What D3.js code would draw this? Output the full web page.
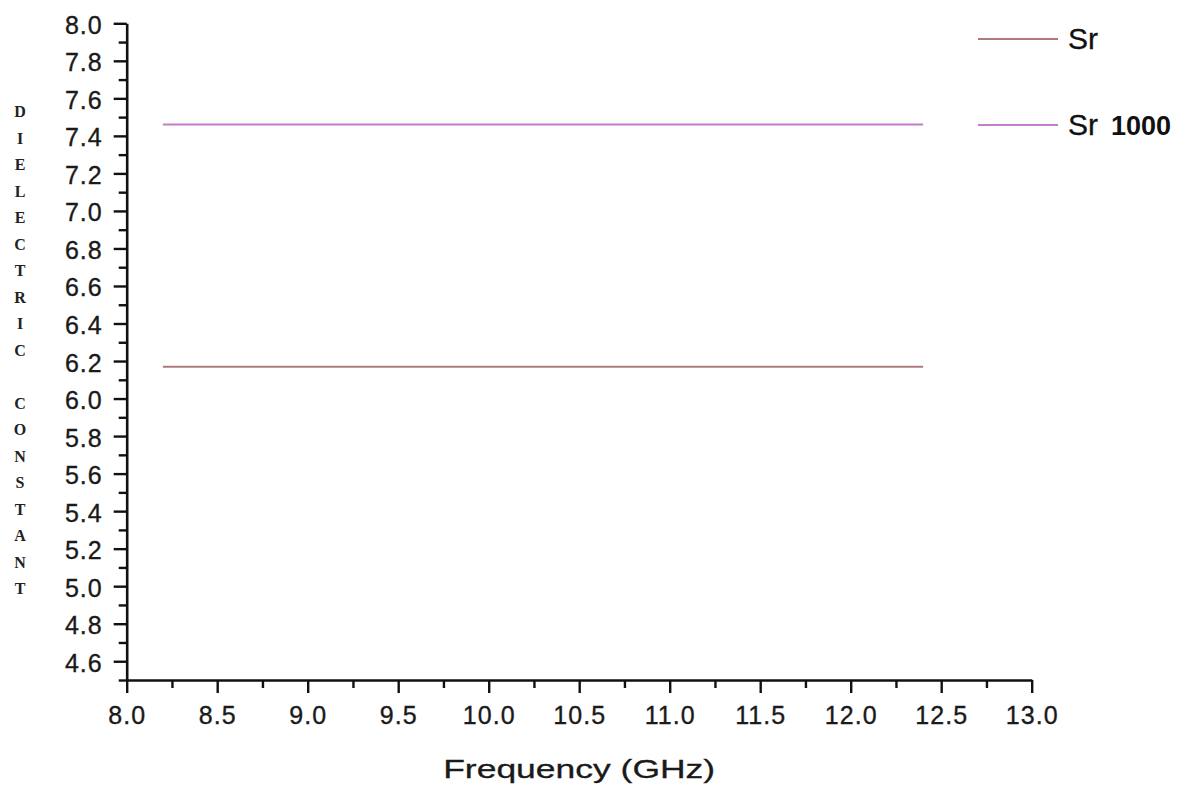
<!DOCTYPE html>
<html>
<head>
<meta charset="utf-8">
<script src="https://cdn.jsdelivr.net/npm/d3@7/dist/d3.min.js"></script>
<style>
  html, body { margin: 0; padding: 0; background: #fff; }
  svg { display: block; }
  .tick-label { font-family: "Liberation Sans", Arial, sans-serif; font-size: 25px; fill: #1a1a1a; stroke: #1a1a1a; stroke-width: 0.35px; letter-spacing: 1px; }
</style>
</head>
<body>
<svg id="chart" width="1187" height="789"></svg>
<script>
// Measured dielectric constant across the X band
const frequency = [8.2, 12.4];          // GHz
const srValues = [6.17, 6.17];
const sr1000Values = [7.46, 7.46];

const seriesNames = ["Sr", "Sr 1000"];
const seriesColors = ["#ad7b7f", "#c47ccc"];

const xTicks = [8.0, 8.5, 9.0, 9.5, 10.0, 10.5, 11.0, 11.5, 12.0, 12.5, 13.0];
const xMinorTicks = [8.25, 8.75, 9.25, 9.75, 10.25, 10.75, 11.25, 11.75, 12.25, 12.75];
const yTicks = [4.6, 4.8, 5.0, 5.2, 5.4, 5.6, 5.8, 6.0, 6.2, 6.4, 6.6, 6.8, 7.0, 7.2, 7.4, 7.6, 7.8, 8.0];
const yMinorTicks = [4.5, 4.7, 4.9, 5.1, 5.3, 5.5, 5.7, 5.9, 6.1, 6.3, 6.5, 6.7, 6.9, 7.1, 7.3, 7.5, 7.7, 7.9];

const xTitle = "Frequency (GHz)";
const yTitle = "DIELECTRIC CONSTANT";

const svg = d3.select("#chart");

const x = d3.scaleLinear().domain([8.0, 13.0]).range([126.7, 1031.7]);
const y = d3.scaleLinear().domain([4.5, 8.0]).range([680, 23.3]);

// Minor ticks first, then major axes over them
svg.append("g")
  .attr("transform", `translate(0,${y(4.5)})`)
  .call(d3.axisBottom(x).tickValues(xMinorTicks).tickSize(8).tickFormat(""))
  .call(g => g.select(".domain").remove())
  .call(g => g.selectAll("line").attr("stroke", "#111").attr("stroke-width", 2.4));

svg.append("g")
  .attr("transform", `translate(${x(8.0)},0)`)
  .call(d3.axisLeft(y).tickValues(yMinorTicks).tickSize(8).tickFormat(""))
  .call(g => g.select(".domain").remove())
  .call(g => g.selectAll("line").attr("stroke", "#111").attr("stroke-width", 2.4));

const xAxis = svg.append("g")
  .attr("transform", `translate(0,${y(4.5)})`)
  .call(d3.axisBottom(x).tickValues(xTicks).tickSize(13).tickSizeOuter(0).tickFormat(d3.format(".1f")));
xAxis.select(".domain").attr("stroke", "#111").attr("stroke-width", 2.6);
xAxis.selectAll(".tick line").attr("stroke", "#111").attr("stroke-width", 2.4);
xAxis.selectAll(".tick text")
  .attr("class", "tick-label")
  .attr("y", 44).attr("dy", null)
  .attr("font-family", null).attr("font-size", null);

const yAxis = svg.append("g")
  .attr("transform", `translate(${x(8.0)},0)`)
  .call(d3.axisLeft(y).tickValues(yTicks).tickSize(13).tickSizeOuter(0).tickFormat(d3.format(".1f")));
yAxis.select(".domain").attr("stroke", "#111").attr("stroke-width", 2.6);
yAxis.selectAll(".tick line").attr("stroke", "#111").attr("stroke-width", 2.4);
yAxis.selectAll(".tick text")
  .attr("class", "tick-label")
  .attr("x", -24).attr("dy", "0.40em")
  .attr("font-family", null).attr("font-size", null);

// Data lines
const line = d3.line().x(d => x(d[0])).y(d => y(d[1]));
const series = [srValues, sr1000Values];
series.forEach((vals, i) => {
  svg.append("path")
    .datum(frequency.map((f, j) => [f, vals[j]]))
    .attr("fill", "none")
    .attr("stroke", seriesColors[i])
    .attr("stroke-width", 2)
    .attr("d", line);
});

// Legend
const legendY = [39, 125];
const legend = svg.append("g");
seriesNames.forEach((name, i) => {
  legend.append("line")
    .attr("x1", 978).attr("x2", 1058)
    .attr("y1", legendY[i]).attr("y2", legendY[i])
    .attr("stroke", seriesColors[i]).attr("stroke-width", 2);
  const parts = name.split(" ");
  const t = legend.append("text")
    .attr("x", 1068).attr("y", legendY[i] + 10)
    .attr("font-family", "Liberation Sans, Arial, sans-serif")
    .attr("fill", "#111");
  t.append("tspan").attr("font-size", 30).attr("stroke", "#111").attr("stroke-width", 0.3).text(parts[0]);
  if (parts[1]) {
    t.append("tspan").attr("x", 1111).attr("font-size", 27)
      .attr("font-weight", "bold").text(parts[1]);
  }
});

// Axis titles
svg.append("text")
  .attr("x", (x(8.0) + x(13.0)) / 2)
  .attr("y", 778)
  .attr("text-anchor", "middle")
  .attr("font-family", "Liberation Sans, Arial, sans-serif")
  .attr("font-size", 26)
  .attr("fill", "#1a1a1a")
  .attr("stroke", "#1a1a1a")
  .attr("stroke-width", 0.3)
  .attr("textLength", 272)
  .attr("lengthAdjust", "spacingAndGlyphs")
  .text(xTitle);

// Vertical title, one character per line
svg.append("g")
  .selectAll("text")
  .data(yTitle.split(""))
  .join("text")
  .attr("x", 20)
  .attr("y", (d, i) => 117 + i * 26.5)
  .attr("text-anchor", "middle")
  .attr("font-family", "Liberation Serif, Times New Roman, serif")
  .attr("font-size", 16)
  .attr("font-weight", "bold")
  .attr("fill", "#222")
  .text(d => d);
</script>
</body>
</html>
